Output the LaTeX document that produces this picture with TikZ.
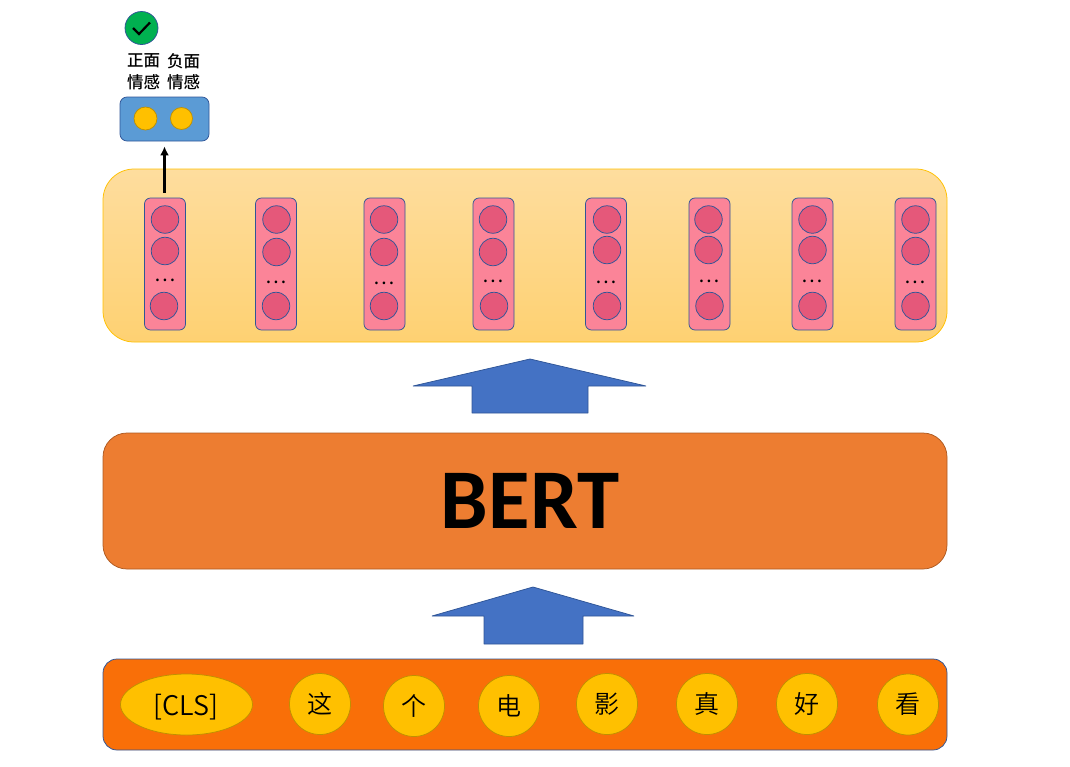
\documentclass[tikz,border=0pt]{standalone}
\usepackage{fontspec}
\setmainfont{Noto Sans CJK SC}
\newfontfamily\lightcjk{Noto Sans CJK SC DemiLight}
\newfontfamily\mediumcjk{Noto Sans CJK SC Medium}
\newfontfamily\titlefont{Carlito}
\usetikzlibrary{shapes.geometric,arrows.meta}
\definecolor{panelTop}{HTML}{FEDD9E}
\definecolor{panelBottom}{HTML}{FED172}
\definecolor{panelEdge}{HTML}{FFC000}
\definecolor{cellPink}{HTML}{FB8498}
\definecolor{dotRose}{HTML}{E5587A}
\definecolor{edgeBlue}{HTML}{2F5597}
\definecolor{bertOrange}{HTML}{ED7D31}
\definecolor{bertEdge}{HTML}{AE5A21}
\definecolor{barOrange}{HTML}{F96F08}
\definecolor{goldFill}{HTML}{FFC000}
\definecolor{goldEdge}{HTML}{BF9000}
\definecolor{arrowBlue}{HTML}{4472C4}
\definecolor{outBlue}{HTML}{5B9BD5}
\definecolor{okGreen}{HTML}{00B050}
\tikzset{
    panel/.style={draw=panelEdge,top color=panelTop,bottom color=panelBottom,rounded corners=31pt,minimum width=844pt,minimum height=173pt,inner sep=0pt},
    column/.style={draw=edgeBlue,fill=cellPink,rounded corners=6pt,minimum width=41pt,minimum height=132pt,inner sep=0pt},
    cell/.style={circle,draw=edgeBlue,fill=dotRose,minimum size=27.5pt,inner sep=0pt},
    token/.style={circle,draw=goldEdge,fill=goldFill,minimum size=61pt,inner sep=0pt,font=\lightcjk\fontsize{25}{25}\selectfont},
    bigarrow/.style={draw=edgeBlue,fill=arrowBlue,line join=bevel},
    outlabel/.style={inner sep=0pt,align=center,font=\mediumcjk\fontsize{16.5}{21.5}\selectfont}
}
\begin{document}
\begin{tikzpicture}[x=1pt,y=-1pt,line width=.75pt]
    \useasboundingbox (0,0) rectangle (1070,766);
    \node[panel] (panel) at (525,255.5) {};
    \foreach \n/\x/\cx/\ya/\yb/\xc in {1/165/165/251/280/164,2/276/276.5/252/282/276,3/384.5/384/252/283/384,4/493.5/493/252/281/494,5/606/607/250/282/607,6/709.5/708.5/250/281/709.5,7/812.5/812.5/250/281/812.5,8/915.5/915.5/251/282/915.5}
    {
        \node[column] (col\n) at (\x,264) {};
        \node[cell] (a\n) at (\cx,219.5) {};
        \node[cell] (b\n) at (\cx,\ya) {};
        \node[cell] (c\n) at (\xc,306) {};
        \node[inner sep=0pt,font=\fontsize{20}{20}\selectfont] (d\n) at (\x,\yb) {…};
    }

    \node[draw=edgeBlue,fill=outBlue,rounded corners=7pt,minimum width=89pt,minimum height=44pt,inner sep=0pt] (out) at (164.5,119) {};
    \node[circle,draw=goldEdge,fill=goldFill,minimum size=23pt,inner sep=0pt] (pos) at (145.5,118.5) {};
    \node[circle,draw=goldEdge,fill=goldFill,minimum size=22pt,inner sep=0pt] (neg) at (181.5,118.5) {};
    \node[outlabel] (poslabel) at (143.5,71.5) {正面\\情感};
    \node[outlabel] (neglabel) at (183.5,71.5) {负面\\情感};
    \node[circle,draw=edgeBlue,fill=okGreen,minimum size=33pt,inner sep=0pt] (ok) at (141.5,28) {};
    \draw[black,line width=2.2pt] (133,28) -- (139,34) -- (150,22.5);
    \draw[-{Latex[length=9pt,width=9pt]},line width=2.2pt,shorten <=5pt,shorten >=5pt] (col1.north -| out.south) -- (out.south);

    \draw[bigarrow] (530,359) -- (646,386) -- (588,386) -- (588,413) -- (472,413) -- (472,386) -- (413,386) -- cycle;

    \node[draw=bertEdge,fill=bertOrange,rounded corners=24pt,minimum width=844pt,minimum height=136pt,inner sep=0pt] (bert) at (525,501) {};
    \node[inner sep=0pt,font=\titlefont\bfseries\fontsize{85}{85}\selectfont] (berttext) at (530,501) {BERT};

    \draw[bigarrow] (533,587) -- (634,616) -- (583,616) -- (583,644) -- (484,644) -- (484,616) -- (432,616) -- cycle;

    \node[draw=edgeBlue,fill=barOrange,rounded corners=14pt,minimum width=844pt,minimum height=91pt,inner sep=0pt] (bar) at (525,704.5) {};
    \node[ellipse,draw=goldEdge,fill=goldFill,minimum width=132pt,minimum height=61pt,inner sep=0pt] (cls) at (186.5,704.5) {};
    \node[inner sep=0pt,font=\lightcjk\fontsize{27}{27}\selectfont] (clstext) at (186,707) {[CLS]};
    \foreach \n/\x/\y/\t in {1/320/704/这,2/414/706/个,3/509/706/电,4/607/704/影,5/707/704/真,6/807/704/好,7/908/704.5/看}
    {
        \node[token] (tok\n) at (\x,\y) {\t};
    }
\end{tikzpicture}
\end{document}
